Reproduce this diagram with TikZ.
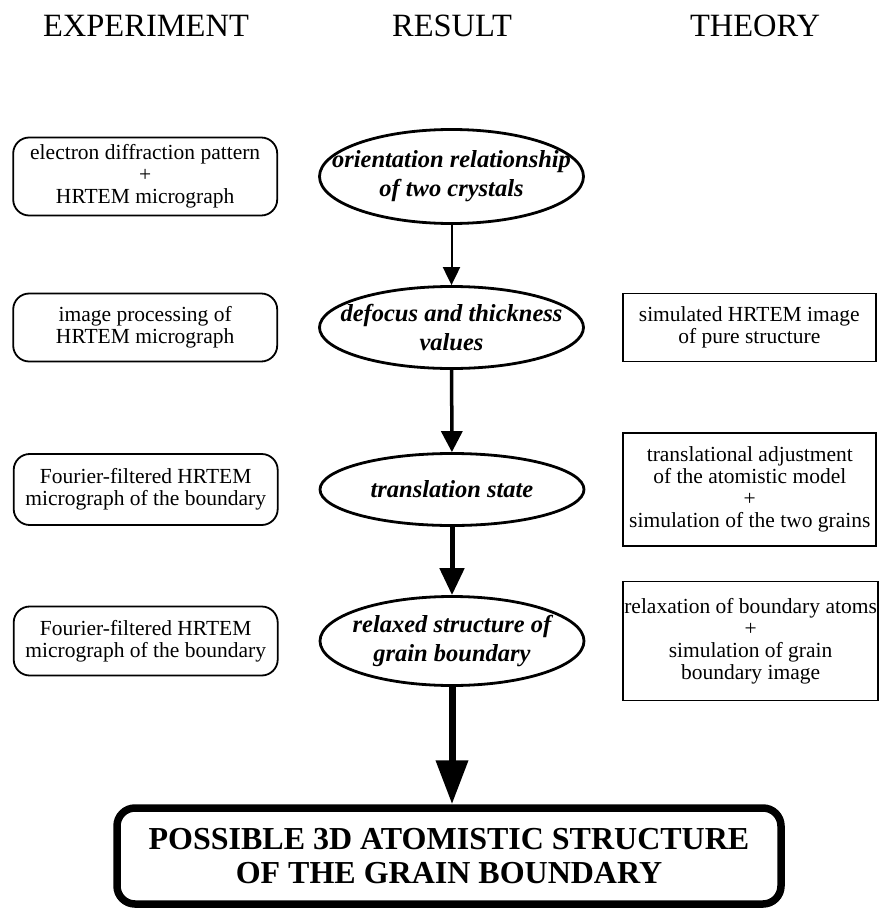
\documentclass[tikz,border=0pt]{standalone}
\usepackage{fontspec}
\setmainfont{Liberation Serif}
\usetikzlibrary{shapes.geometric, arrows.meta, positioning}

\begin{document}
\begin{tikzpicture}[
    x=1pt, y=-1pt,
    header/.style={anchor=base, font=\fontsize{32.5}{34}\selectfont},
    expbox/.style={draw, rectangle, rounded corners=16pt, line width=1.8pt, minimum width=264pt, align=center, inner sep=2pt, font=\fontsize{21.5}{22}\selectfont},
    theobox/.style={draw, rectangle, line width=1.8pt, minimum width=253pt, align=center, inner sep=1pt, font=\fontsize{21.5}{22}\selectfont},
    result/.style={draw, ellipse, line width=2.8pt, minimum width=264pt, inner xsep=-40pt, inner ysep=-12pt, align=center, font=\fontsize{24.5}{29}\selectfont\bfseries\itshape},
    final/.style={draw, rectangle, rounded corners=18pt, line width=7.5pt, minimum width=664pt, minimum height=96pt, inner ysep=0pt, align=center, font=\fontsize{32}{34}\selectfont\bfseries},
    arrowA/.style={-{Triangle[length=18pt, width=17pt]}, line width=2pt},
    arrowB/.style={-{Triangle[length=21pt, width=21pt]}, line width=3.5pt},
    arrowC/.style={-{Triangle[length=27pt, width=24pt]}, line width=5pt},
    arrowD/.style={-{Triangle[length=44pt, width=31pt]}, line width=7pt}
  ]
    \useasboundingbox (0,0) rectangle (879,912);

    % Column heads
    \node[header] (hexp) at (146,37) {EXPERIMENT};
    \node[header] (hres) at (452,37) {RESULT};
    \node[header] (hth) at (755,37) {THEORY};

    % Results
    \node[result, minimum height=94pt] (res1) at (451.5,176.5) {orientation relationship\\of two crystals};
    \node[result, minimum height=82pt] (res2) at (451.5,327.5) {defocus and thickness\\values};
    \node[result, minimum height=72pt] (res3) at (452,489.5) {translation state};
    \node[result, minimum height=89pt] (res4) at (452,641) {relaxed structure of\\grain boundary};

    % Experiment
    \node[expbox, minimum height=78pt, left=40pt of res1] (exp1) {electron diffraction pattern\\+\\HRTEM micrograph};
    \node[expbox, minimum height=68pt, left=40pt of res2] (exp2) {image processing of\\HRTEM micrograph};
    \node[expbox, minimum height=71pt, left=40pt of res3] (exp3) {Fourier-filtered HRTEM\\micrograph of the boundary};
    \node[expbox, minimum height=69pt, left=40pt of res4] (exp4) {Fourier-filtered HRTEM\\micrograph of the boundary};

    % Theory
    \node[theobox, minimum height=68pt, right=37pt of res2] (th1) {simulated HRTEM image\\of pure structure};
    \node[theobox, minimum height=113pt, right=37pt of res3] (th2) {translational adjustment\\of the atomistic model\\+\\simulation of the two grains};
    \node[theobox, minimum height=119pt, right=37pt of res4] (th3) {relaxation of boundary atoms\\+\\simulation of grain\\boundary image};

    \node[final] (final) at (449,856) {POSSIBLE 3D ATOMISTIC STRUCTURE\\OF THE GRAIN BOUNDARY};

    % Connections
    \draw[arrowA] (res1) -- (res2);
    \draw[arrowB] (res2) -- (res3);
    \draw[arrowC] (res3) -- (res4);
    \draw[arrowD] (res4.south) -- (res4.south |- final.north);

  \end{tikzpicture}
\end{document}
